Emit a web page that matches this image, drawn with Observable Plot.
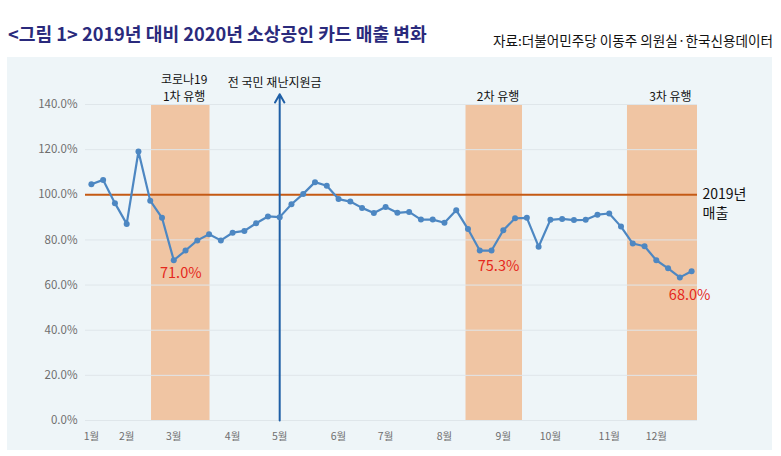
<!DOCTYPE html>
<html>
<head>
<meta charset="utf-8">
<script src="https://cdn.jsdelivr.net/npm/d3@7"></script>
<script src="https://cdn.jsdelivr.net/npm/@observablehq/plot@0.6"></script>
<style>
  html, body { margin: 0; padding: 0; background: #fff; }
  body { width: 781px; height: 456px; position: relative; overflow: hidden; font-family: "Noto Sans CJK KR", "Noto Sans", sans-serif; }
  #title { position: absolute; left: 8px; top: 21px; font-size: 18.2px; font-weight: 700; color: #2a2a7c; white-space: nowrap; line-height: 24px; }
  #source { position: absolute; right: 8px; top: 31px; font-size: 13.6px; color: #111; white-space: nowrap; line-height: 18px; }
  #chart { position: absolute; left: 7px; top: 57px; }
</style>
</head>
<body>
<div id="title">&lt;그림 1&gt; 2019년 대비 2020년 소상공인 카드 매출 변화</div>
<div id="source">자료:더불어민주당 이동주 의원실·한국신용데이터</div>
<div id="chart"></div>
<script>
// Weekly card sales of small businesses in 2020, as % of 2019 (52 weeks)
const salesPct = [
  104.7, 106.6, 96.3, 87.1, 119.2, 97.4, 89.8, 71.0, 75.3, 79.8,
  82.5, 79.8, 83.2, 84.0, 87.4, 90.4, 90.1, 95.8, 100.4, 105.6,
  104.0, 98.1, 97.0, 94.2, 91.9, 94.6, 92.0, 92.4, 89.0, 89.0,
  87.6, 93.2, 84.8, 75.3, 75.3, 84.3, 89.6, 89.8, 77.0, 88.9,
  89.3, 88.8, 88.9, 91.2, 91.7, 85.9, 78.4, 77.2, 71.0, 67.4,
  63.4, 66.1
];
const monthLabels = ["1월","2월","3월","4월","5월","6월","7월","8월","9월","10월","11월","12월"];
const monthWeek = [0, 3, 7, 12, 16, 21, 25, 30, 35, 39, 44, 48];
const yTicks = [0, 20, 40, 60, 80, 100, 120, 140];
const baseline2019 = 100;

// Covid waves (in week-index units)
const waveStart = [5.11, 31.83, 45.55];
const waveEnd = [10.08, 36.63, 51.5];
const waveLabel = ["코로나19\n1차 유행", "2차 유행", "3차 유행"];
const waveLabelX = [7.88, 34.55, 49.2];

// Disaster relief fund
const reliefWeek = 16;
const reliefLabel = "전 국민 재난지원금";

// Highlighted values
const calloutWeek = [7, 34, 51];
const calloutText = ["71.0%", "75.3%", "68.0%"];
const calloutDx = [7, 7, -2];
const calloutDy = [13, 16, 24];

const data = salesPct.map((v, i) => ({week: i, v}));
const waves = waveStart.map((s, i) => ({s, e: waveEnd[i], label: waveLabel[i], lx: waveLabelX[i]}));
const callouts = calloutWeek.map((w, i) => ({week: w, v: salesPct[w], text: calloutText[i], dx: calloutDx[i], dy: calloutDy[i]}));

const font = "'Noto Sans CJK KR', 'Noto Sans', sans-serif";

const plot = Plot.plot({
  width: 765,
  height: 393,
  marginLeft: 78,
  marginRight: 75,
  marginTop: 47,
  marginBottom: 30,
  style: { background: "#eef5f8", fontFamily: font, overflow: "visible" },
  x: { domain: [-0.5, 51.5], axis: null },
  y: { domain: [0, 140], axis: null },
  marks: [
    Plot.rect(waves, { x1: "s", x2: "e", y1: 0, y2: 140, fill: "#f0c5a3" }),
    Plot.ruleY(yTicks, { stroke: "#dfe6ea", strokeWidth: 1 }),
    Plot.ruleY([baseline2019], { stroke: "#c55a14", strokeWidth: 2 }),
    Plot.axisY({ ticks: yTicks, tickFormat: d => d.toFixed(1) + "%", tickSize: 0, tickPadding: 8, fontSize: 11.5, fill: "#6e6e6e", label: null }),
    Plot.axisX({ ticks: monthWeek, tickFormat: d => monthLabels[monthWeek.indexOf(d)], tickSize: 0, tickPadding: 12, fontSize: 10.5, fill: "#6e6e6e", label: null }),
    Plot.arrow([reliefWeek], { x: d => d, y1: 0, y2: 144.5, stroke: "#1f5fa6", strokeWidth: 2, headLength: 7 }),
    Plot.line(data, { x: "week", y: "v", stroke: "#4d87c2", strokeWidth: 2.2 }),
    Plot.dot(data, { x: "week", y: "v", r: 3, fill: "#4d87c2" }),
    Plot.text(waves, { x: "lx", y: 140, text: "label", lineAnchor: "bottom", dy: -4, fontSize: 12, fill: "#111", lineHeight: 1.4 }),
    Plot.text([reliefLabel], { x: reliefWeek, y: 144.5, text: d => d, lineAnchor: "bottom", dy: -7, dx: -5, fontSize: 12, fill: "#111" }),
    Plot.text(["2019년\n매출"], { x: 51.5, y: baseline2019, text: d => d, textAnchor: "start", dx: 5, dy: 8, fontSize: 14, fill: "#111", lineHeight: 1.32 }),
    ...callouts.map(c => Plot.text([c], { x: "week", y: "v", text: "text", dx: c.dx, dy: c.dy, fontSize: 14.5, fill: "#e5281c" }))
  ]
});
document.getElementById("chart").appendChild(plot);
</script>
</body>
</html>
